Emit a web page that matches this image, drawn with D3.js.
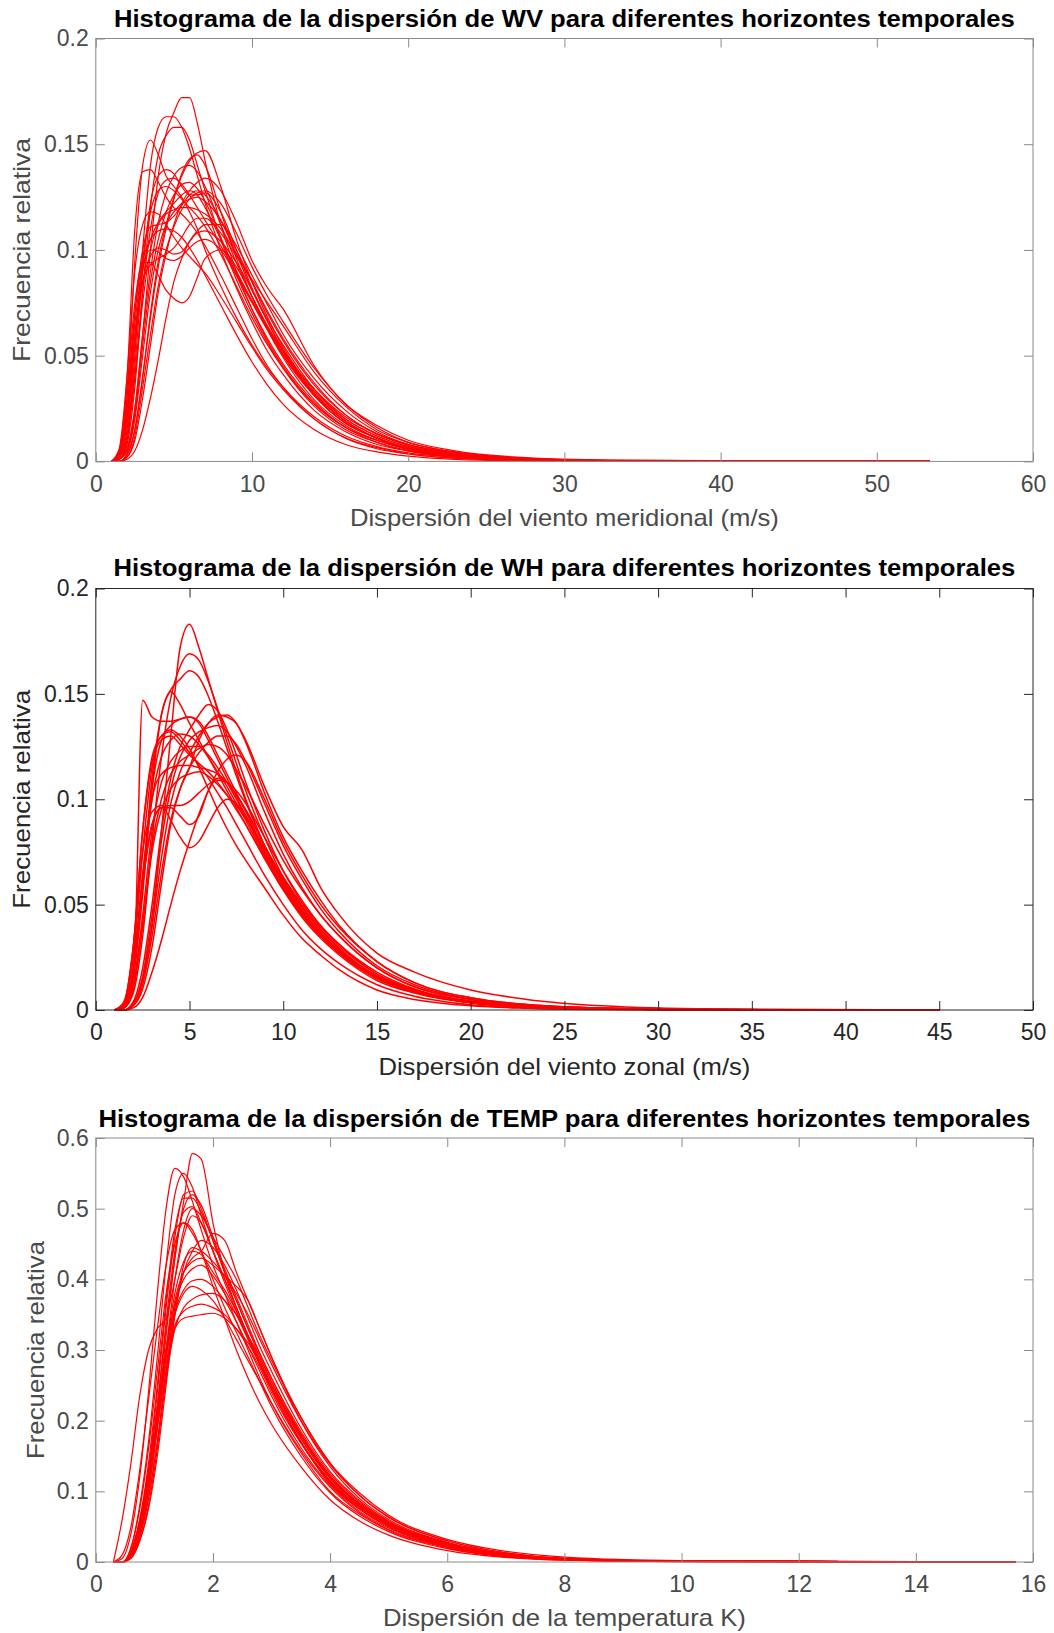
<!DOCTYPE html>
<html>
<head>
<meta charset="utf-8">
<script src="https://cdn.jsdelivr.net/npm/d3@7"></script>
<style>
  html, body { margin: 0; padding: 0; background: #fff; }
  svg { display: block; }
  text { font-family: "Liberation Sans", Arial, Helvetica, sans-serif; }
</style>
</head>
<body>
<svg id="chart" width="1054" height="1633"></svg>
<script>
// ---------------- DATA ----------------
// Panel 1: WV (viento meridional)
const xWV = [1, 1.5, 2, 2.5, 3, 3.5, 4, 4.5, 5, 5.5, 6, 6.5, 7, 8, 9, 10, 11, 12, 14, 16, 18, 20, 23, 27, 33, 53.4];
const curvesWV = [
  [0, 0.001, 0.006, 0.025, 0.06, 0.10, 0.135, 0.155, 0.165, 0.172, 0.172, 0.160, 0.142, 0.112, 0.090, 0.072, 0.057, 0.045, 0.027, 0.016, 0.010, 0.006, 0.003, 0.001, 0.0003, 0],
  [0, 0.002, 0.012, 0.05, 0.10, 0.14, 0.158, 0.163, 0.163, 0.158, 0.148, 0.135, 0.122, 0.100, 0.082, 0.066, 0.052, 0.041, 0.024, 0.014, 0.008, 0.005, 0.002, 0.0008, 0.0002, 0],
  [0, 0.001, 0.008, 0.035, 0.08, 0.12, 0.145, 0.154, 0.158, 0.158, 0.152, 0.140, 0.128, 0.105, 0.086, 0.070, 0.056, 0.044, 0.026, 0.015, 0.009, 0.005, 0.0025, 0.001, 0.0003, 0],
  [0, 0.004, 0.03, 0.095, 0.140, 0.152, 0.145, 0.135, 0.130, 0.125, 0.118, 0.110, 0.100, 0.083, 0.068, 0.055, 0.044, 0.035, 0.021, 0.012, 0.007, 0.004, 0.002, 0.0006, 0.0001, 0],
  [0, 0.005, 0.04, 0.11, 0.137, 0.138, 0.132, 0.125, 0.120, 0.117, 0.113, 0.108, 0.102, 0.088, 0.073, 0.058, 0.045, 0.035, 0.020, 0.011, 0.006, 0.0035, 0.0015, 0.0005, 0.0001, 0],
  [0, 0, 0.003, 0.015, 0.04, 0.07, 0.095, 0.112, 0.125, 0.135, 0.142, 0.146, 0.147, 0.130, 0.105, 0.085, 0.068, 0.054, 0.033, 0.020, 0.012, 0.007, 0.003, 0.0012, 0.0003, 0],
  [0, 0.001, 0.006, 0.025, 0.06, 0.09, 0.113, 0.127, 0.135, 0.139, 0.140, 0.137, 0.130, 0.112, 0.094, 0.078, 0.063, 0.050, 0.031, 0.018, 0.011, 0.006, 0.003, 0.001, 0.0003, 0],
  [0, 0, 0.002, 0.01, 0.03, 0.055, 0.08, 0.098, 0.112, 0.122, 0.128, 0.132, 0.134, 0.128, 0.113, 0.095, 0.082, 0.072, 0.045, 0.027, 0.017, 0.010, 0.005, 0.002, 0.0006, 0],
  [0, 0.002, 0.015, 0.055, 0.095, 0.118, 0.128, 0.130, 0.128, 0.124, 0.120, 0.116, 0.111, 0.098, 0.083, 0.068, 0.055, 0.044, 0.027, 0.016, 0.009, 0.005, 0.0025, 0.0008, 0.0002, 0],
  [0, 0, 0.004, 0.02, 0.05, 0.08, 0.10, 0.112, 0.118, 0.122, 0.124, 0.125, 0.123, 0.114, 0.100, 0.085, 0.070, 0.057, 0.036, 0.022, 0.013, 0.008, 0.004, 0.0015, 0.0004, 0],
  [0, 0.001, 0.01, 0.04, 0.075, 0.10, 0.112, 0.117, 0.119, 0.12, 0.12, 0.119, 0.117, 0.110, 0.098, 0.085, 0.071, 0.058, 0.037, 0.022, 0.013, 0.008, 0.0035, 0.0012, 0.0003, 0],
  [0, 0.005, 0.035, 0.075, 0.094, 0.094, 0.088, 0.081, 0.077, 0.075, 0.078, 0.087, 0.096, 0.100, 0.092, 0.078, 0.064, 0.052, 0.032, 0.019, 0.011, 0.006, 0.003, 0.001, 0.0002, 0],
  [0, 0.003, 0.025, 0.065, 0.092, 0.100, 0.099, 0.096, 0.095, 0.097, 0.101, 0.104, 0.105, 0.100, 0.088, 0.075, 0.062, 0.050, 0.031, 0.018, 0.011, 0.006, 0.003, 0.001, 0.0002, 0],
  [0, 0, 0.001, 0.005, 0.015, 0.03, 0.048, 0.068, 0.085, 0.096, 0.104, 0.109, 0.112, 0.112, 0.102, 0.088, 0.074, 0.060, 0.039, 0.024, 0.014, 0.008, 0.004, 0.0015, 0.0004, 0],
  [0, 0.001, 0.005, 0.022, 0.055, 0.085, 0.105, 0.118, 0.126, 0.131, 0.132, 0.129, 0.123, 0.106, 0.088, 0.072, 0.058, 0.046, 0.028, 0.016, 0.010, 0.0055, 0.0025, 0.0009, 0.0002, 0],
  [0, 0.004, 0.03, 0.07, 0.095, 0.105, 0.109, 0.110, 0.109, 0.106, 0.101, 0.095, 0.088, 0.074, 0.060, 0.047, 0.036, 0.027, 0.015, 0.008, 0.0045, 0.0025, 0.001, 0.0003, 0.0001, 0],
  [0, 0, 0.002, 0.012, 0.035, 0.06, 0.083, 0.1, 0.111, 0.119, 0.124, 0.127, 0.128, 0.122, 0.108, 0.092, 0.078, 0.066, 0.044, 0.027, 0.016, 0.009, 0.0045, 0.0017, 0.0005, 0],
  [0, 0, 0.003, 0.015, 0.04, 0.068, 0.092, 0.11, 0.124, 0.136, 0.143, 0.145, 0.140, 0.118, 0.096, 0.078, 0.062, 0.049, 0.029, 0.017, 0.01, 0.006, 0.0028, 0.001, 0.0003, 0],
  [0, 0.006, 0.04, 0.09, 0.112, 0.118, 0.117, 0.112, 0.106, 0.101, 0.097, 0.093, 0.089, 0.078, 0.066, 0.054, 0.043, 0.034, 0.02, 0.011, 0.0065, 0.0035, 0.0015, 0.0005, 0.0001, 0],
  [0, 0.002, 0.018, 0.055, 0.085, 0.097, 0.101, 0.100, 0.098, 0.099, 0.104, 0.108, 0.109, 0.104, 0.094, 0.081, 0.067, 0.055, 0.034, 0.02, 0.012, 0.007, 0.0033, 0.0012, 0.0003, 0],
  [0, 0.002, 0.012, 0.045, 0.09, 0.122, 0.135, 0.138, 0.136, 0.13, 0.126, 0.126, 0.127, 0.118, 0.100, 0.082, 0.066, 0.052, 0.031, 0.018, 0.011, 0.006, 0.003, 0.001, 0.0003, 0],
  [0, 0.003, 0.025, 0.07, 0.1, 0.111, 0.112, 0.113, 0.116, 0.121, 0.126, 0.128, 0.126, 0.114, 0.098, 0.081, 0.066, 0.053, 0.032, 0.019, 0.011, 0.006, 0.003, 0.001, 0.0002, 0],
  [0, 0.001, 0.01, 0.04, 0.08, 0.11, 0.127, 0.133, 0.134, 0.131, 0.126, 0.12, 0.114, 0.102, 0.089, 0.076, 0.063, 0.051, 0.032, 0.019, 0.011, 0.0065, 0.003, 0.001, 0.0003, 0],
  [0, 0.002, 0.02, 0.06, 0.09, 0.105, 0.113, 0.118, 0.122, 0.126, 0.128, 0.126, 0.12, 0.105, 0.09, 0.076, 0.063, 0.052, 0.034, 0.021, 0.013, 0.0075, 0.0035, 0.0013, 0.0003, 0],
  [0, 0.003, 0.022, 0.06, 0.085, 0.093, 0.096, 0.098, 0.101, 0.106, 0.112, 0.115, 0.115, 0.108, 0.097, 0.086, 0.075, 0.064, 0.042, 0.026, 0.015, 0.009, 0.0043, 0.0016, 0.0004, 0]
];
const xTicksWV = [0, 10, 20, 30, 40, 50, 60];
const yTicksWV = [0, 0.05, 0.1, 0.15, 0.2];

// Panel 2: WH (viento zonal)
const xWH = [1, 1.5, 2, 2.5, 3, 3.5, 4, 4.5, 5, 5.5, 6, 6.5, 7, 7.5, 8, 9, 10, 11, 12, 13, 15, 17, 20, 23, 27, 33, 45];
const curvesWH = [
  [0, 0, 0.003, 0.015, 0.04, 0.085, 0.13, 0.172, 0.183, 0.172, 0.157, 0.142, 0.127, 0.113, 0.1, 0.078, 0.06, 0.047, 0.036, 0.027, 0.015, 0.0085, 0.0035, 0.0015, 0.0005, 0.0001, 0],
  [0, 0.001, 0.008, 0.035, 0.08, 0.12, 0.148, 0.163, 0.169, 0.166, 0.156, 0.143, 0.13, 0.117, 0.104, 0.082, 0.063, 0.049, 0.038, 0.029, 0.016, 0.009, 0.0038, 0.0016, 0.0005, 0.0001, 0],
  [0, 0.002, 0.015, 0.055, 0.105, 0.14, 0.152, 0.157, 0.161, 0.158, 0.149, 0.137, 0.124, 0.111, 0.099, 0.078, 0.061, 0.047, 0.036, 0.027, 0.015, 0.0085, 0.0035, 0.0015, 0.0005, 0.0001, 0],
  [0, 0.001, 0.012, 0.147, 0.139, 0.137, 0.137, 0.138, 0.139, 0.136, 0.128, 0.119, 0.11, 0.101, 0.092, 0.074, 0.058, 0.045, 0.035, 0.027, 0.015, 0.0085, 0.0035, 0.0015, 0.0005, 0.0001, 0],
  [0, 0.002, 0.018, 0.06, 0.11, 0.14, 0.151, 0.145, 0.136, 0.128, 0.12, 0.112, 0.104, 0.096, 0.088, 0.072, 0.057, 0.044, 0.034, 0.026, 0.014, 0.008, 0.0033, 0.0014, 0.0004, 0.0001, 0],
  [0, 0, 0.004, 0.02, 0.05, 0.085, 0.11, 0.125, 0.133, 0.14, 0.145, 0.142, 0.133, 0.121, 0.108, 0.085, 0.066, 0.051, 0.04, 0.031, 0.017, 0.0095, 0.004, 0.0018, 0.0006, 0.0001, 0],
  [0, 0, 0.002, 0.012, 0.035, 0.065, 0.09, 0.105, 0.115, 0.128, 0.136, 0.14, 0.139, 0.136, 0.128, 0.106, 0.087, 0.076, 0.058, 0.045, 0.027, 0.018, 0.0095, 0.005, 0.002, 0.0005, 0],
  [0, 0.002, 0.016, 0.06, 0.105, 0.128, 0.135, 0.138, 0.139, 0.137, 0.13, 0.121, 0.112, 0.103, 0.094, 0.076, 0.06, 0.046, 0.036, 0.028, 0.015, 0.0085, 0.0035, 0.0015, 0.0005, 0.0001, 0],
  [0, 0.003, 0.025, 0.075, 0.115, 0.13, 0.132, 0.128, 0.122, 0.116, 0.11, 0.103, 0.096, 0.088, 0.08, 0.064, 0.05, 0.038, 0.029, 0.022, 0.012, 0.0065, 0.0025, 0.001, 0.0003, 0, 0],
  [0, 0, 0.003, 0.016, 0.045, 0.08, 0.105, 0.12, 0.128, 0.132, 0.134, 0.135, 0.132, 0.125, 0.116, 0.094, 0.074, 0.058, 0.045, 0.035, 0.02, 0.011, 0.005, 0.0022, 0.0008, 0.0002, 0],
  [0, 0, 0.002, 0.01, 0.03, 0.06, 0.088, 0.105, 0.115, 0.122, 0.127, 0.13, 0.13, 0.126, 0.118, 0.098, 0.078, 0.062, 0.048, 0.037, 0.021, 0.012, 0.0052, 0.0023, 0.0008, 0.0002, 0],
  [0, 0.002, 0.02, 0.065, 0.1, 0.112, 0.115, 0.116, 0.116, 0.115, 0.114, 0.112, 0.108, 0.102, 0.095, 0.078, 0.062, 0.048, 0.037, 0.028, 0.016, 0.009, 0.0038, 0.0016, 0.0005, 0.0001, 0],
  [0, 0.003, 0.03, 0.075, 0.094, 0.097, 0.09, 0.082, 0.077, 0.08, 0.088, 0.096, 0.1, 0.098, 0.092, 0.075, 0.059, 0.046, 0.035, 0.027, 0.015, 0.0085, 0.0035, 0.0015, 0.0005, 0.0001, 0],
  [0, 0.002, 0.018, 0.06, 0.088, 0.096, 0.096, 0.092, 0.088, 0.092, 0.104, 0.11, 0.108, 0.102, 0.095, 0.078, 0.062, 0.049, 0.038, 0.029, 0.016, 0.009, 0.0038, 0.0016, 0.0005, 0.0001, 0],
  [0, 0.001, 0.01, 0.04, 0.075, 0.095, 0.105, 0.11, 0.112, 0.113, 0.111, 0.107, 0.102, 0.097, 0.091, 0.077, 0.063, 0.05, 0.039, 0.03, 0.017, 0.0095, 0.004, 0.0017, 0.0006, 0.0001, 0],
  [0, 0.004, 0.03, 0.085, 0.12, 0.13, 0.133, 0.13, 0.124, 0.115, 0.105, 0.095, 0.086, 0.078, 0.071, 0.058, 0.045, 0.034, 0.026, 0.019, 0.0095, 0.005, 0.002, 0.0008, 0.0002, 0, 0],
  [0, 0, 0.001, 0.006, 0.018, 0.033, 0.05, 0.066, 0.08, 0.093, 0.104, 0.113, 0.119, 0.121, 0.118, 0.1, 0.08, 0.064, 0.05, 0.039, 0.023, 0.013, 0.0058, 0.0026, 0.0009, 0.0002, 0],
  [0, 0, 0.003, 0.014, 0.04, 0.072, 0.098, 0.113, 0.122, 0.13, 0.136, 0.139, 0.14, 0.136, 0.127, 0.103, 0.082, 0.066, 0.052, 0.04, 0.023, 0.013, 0.0058, 0.0026, 0.0009, 0.0002, 0],
  [0, 0.001, 0.012, 0.045, 0.085, 0.108, 0.118, 0.123, 0.125, 0.125, 0.121, 0.115, 0.108, 0.1, 0.092, 0.075, 0.06, 0.047, 0.036, 0.028, 0.015, 0.0085, 0.0035, 0.0015, 0.0005, 0.0001, 0],
  [0, 0.003, 0.03, 0.085, 0.118, 0.128, 0.13, 0.126, 0.121, 0.117, 0.113, 0.108, 0.102, 0.095, 0.088, 0.072, 0.057, 0.045, 0.035, 0.027, 0.015, 0.0085, 0.0035, 0.0015, 0.0005, 0.0001, 0],
  [0, 0.002, 0.02, 0.06, 0.088, 0.096, 0.097, 0.097, 0.099, 0.103, 0.107, 0.109, 0.108, 0.104, 0.098, 0.082, 0.066, 0.052, 0.04, 0.031, 0.018, 0.01, 0.0043, 0.0019, 0.0006, 0.0001, 0],
  [0, 0.001, 0.01, 0.04, 0.078, 0.1, 0.112, 0.118, 0.121, 0.124, 0.126, 0.125, 0.121, 0.114, 0.106, 0.088, 0.071, 0.057, 0.045, 0.035, 0.02, 0.011, 0.005, 0.0022, 0.0008, 0.0002, 0],
  [0, 0.002, 0.018, 0.062, 0.1, 0.12, 0.128, 0.131, 0.13, 0.126, 0.12, 0.113, 0.106, 0.098, 0.09, 0.073, 0.058, 0.046, 0.036, 0.028, 0.016, 0.009, 0.0038, 0.0016, 0.0005, 0.0001, 0]
];
const xTicksWH = [0, 5, 10, 15, 20, 25, 30, 35, 40, 45, 50];
const yTicksWH = [0, 0.05, 0.1, 0.15, 0.2];

// Panel 3: TEMP
const xTEMP = [0.3, 0.45, 0.6, 0.75, 0.9, 1.05, 1.2, 1.35, 1.5, 1.65, 1.8, 2.0, 2.2, 2.4, 2.6, 2.8, 3.0, 3.5, 4, 4.5, 5, 6, 7, 8, 10, 15.7];
const curvesTEMP = [
  [0, 0, 0.01, 0.05, 0.12, 0.22, 0.33, 0.43, 0.51, 0.578, 0.57, 0.48, 0.41, 0.36, 0.32, 0.28, 0.245, 0.17, 0.11, 0.075, 0.05, 0.022, 0.009, 0.004, 0.001, 0],
  [0, 0.005, 0.04, 0.12, 0.24, 0.38, 0.50, 0.557, 0.545, 0.51, 0.47, 0.42, 0.38, 0.34, 0.30, 0.26, 0.225, 0.155, 0.10, 0.068, 0.045, 0.02, 0.008, 0.003, 0.0007, 0],
  [0, 0, 0.02, 0.08, 0.17, 0.29, 0.42, 0.52, 0.55, 0.53, 0.49, 0.44, 0.395, 0.355, 0.315, 0.28, 0.245, 0.17, 0.115, 0.078, 0.052, 0.024, 0.01, 0.004, 0.001, 0],
  [0, 0, 0.015, 0.06, 0.14, 0.25, 0.37, 0.47, 0.515, 0.515, 0.495, 0.455, 0.41, 0.37, 0.33, 0.29, 0.255, 0.18, 0.12, 0.08, 0.054, 0.025, 0.01, 0.004, 0.001, 0],
  [0, 0, 0.01, 0.045, 0.11, 0.2, 0.32, 0.43, 0.5, 0.52, 0.505, 0.46, 0.415, 0.375, 0.335, 0.295, 0.26, 0.185, 0.125, 0.085, 0.057, 0.027, 0.011, 0.0045, 0.001, 0],
  [0, 0, 0.012, 0.05, 0.12, 0.22, 0.34, 0.44, 0.495, 0.503, 0.48, 0.44, 0.4, 0.36, 0.32, 0.28, 0.245, 0.17, 0.112, 0.075, 0.05, 0.023, 0.009, 0.0035, 0.0008, 0],
  [0, 0, 0.008, 0.035, 0.09, 0.17, 0.27, 0.36, 0.41, 0.43, 0.44, 0.465, 0.455, 0.41, 0.37, 0.33, 0.29, 0.205, 0.14, 0.095, 0.064, 0.03, 0.013, 0.005, 0.0012, 0],
  [0, 0, 0.01, 0.045, 0.11, 0.2, 0.3, 0.38, 0.425, 0.44, 0.435, 0.41, 0.385, 0.355, 0.32, 0.285, 0.25, 0.175, 0.12, 0.082, 0.055, 0.026, 0.011, 0.0045, 0.001, 0],
  [0, 0, 0.008, 0.04, 0.1, 0.19, 0.29, 0.37, 0.41, 0.425, 0.43, 0.42, 0.405, 0.39, 0.37, 0.33, 0.29, 0.2, 0.135, 0.09, 0.06, 0.028, 0.012, 0.005, 0.0012, 0],
  [0, 0, 0.012, 0.05, 0.12, 0.21, 0.3, 0.365, 0.4, 0.415, 0.42, 0.405, 0.38, 0.35, 0.315, 0.28, 0.245, 0.17, 0.115, 0.078, 0.052, 0.024, 0.01, 0.004, 0.001, 0],
  [0, 0, 0.015, 0.06, 0.13, 0.22, 0.3, 0.355, 0.385, 0.398, 0.4, 0.39, 0.37, 0.34, 0.305, 0.27, 0.235, 0.162, 0.108, 0.072, 0.048, 0.022, 0.009, 0.0035, 0.0008, 0],
  [0, 0, 0.008, 0.035, 0.09, 0.17, 0.26, 0.33, 0.36, 0.372, 0.378, 0.38, 0.37, 0.35, 0.32, 0.29, 0.255, 0.18, 0.122, 0.083, 0.056, 0.026, 0.011, 0.0045, 0.001, 0],
  [0, 0, 0.012, 0.05, 0.12, 0.2, 0.28, 0.335, 0.355, 0.362, 0.365, 0.36, 0.35, 0.33, 0.305, 0.275, 0.24, 0.168, 0.113, 0.076, 0.05, 0.023, 0.0095, 0.0038, 0.0009, 0],
  [0, 0, 0.01, 0.045, 0.11, 0.19, 0.27, 0.33, 0.345, 0.348, 0.35, 0.352, 0.345, 0.33, 0.31, 0.28, 0.25, 0.178, 0.12, 0.08, 0.053, 0.025, 0.0105, 0.0042, 0.001, 0],
  [0, 0.06, 0.14, 0.235, 0.3, 0.33, 0.345, 0.4, 0.46, 0.49, 0.48, 0.44, 0.4, 0.36, 0.32, 0.285, 0.25, 0.175, 0.118, 0.08, 0.053, 0.025, 0.0105, 0.0042, 0.001, 0],
  [0, 0, 0.008, 0.04, 0.1, 0.19, 0.3, 0.4, 0.47, 0.5, 0.49, 0.46, 0.43, 0.4, 0.36, 0.32, 0.285, 0.205, 0.14, 0.098, 0.066, 0.032, 0.015, 0.007, 0.002, 0],
  [0, 0, 0.02, 0.075, 0.16, 0.27, 0.38, 0.45, 0.48, 0.47, 0.44, 0.39, 0.345, 0.3, 0.26, 0.225, 0.195, 0.135, 0.088, 0.058, 0.038, 0.016, 0.0065, 0.0025, 0.0005, 0],
  [0, 0, 0.005, 0.03, 0.08, 0.16, 0.26, 0.35, 0.41, 0.44, 0.455, 0.445, 0.42, 0.385, 0.345, 0.305, 0.27, 0.19, 0.128, 0.087, 0.058, 0.027, 0.011, 0.0045, 0.001, 0],
  [0, 0, 0.014, 0.055, 0.125, 0.21, 0.29, 0.35, 0.38, 0.39, 0.385, 0.37, 0.345, 0.315, 0.285, 0.255, 0.225, 0.158, 0.106, 0.07, 0.046, 0.021, 0.0085, 0.0033, 0.0008, 0],
  [0, 0, 0.012, 0.055, 0.13, 0.24, 0.36, 0.46, 0.52, 0.525, 0.5, 0.455, 0.41, 0.37, 0.33, 0.295, 0.26, 0.182, 0.122, 0.082, 0.055, 0.025, 0.01, 0.004, 0.001, 0],
  [0, 0.01, 0.05, 0.13, 0.23, 0.33, 0.42, 0.47, 0.48, 0.465, 0.44, 0.4, 0.36, 0.325, 0.29, 0.255, 0.22, 0.15, 0.098, 0.065, 0.043, 0.019, 0.0075, 0.003, 0.0006, 0],
  [0, 0, 0.006, 0.03, 0.075, 0.15, 0.25, 0.35, 0.42, 0.445, 0.44, 0.425, 0.405, 0.38, 0.35, 0.315, 0.28, 0.2, 0.138, 0.094, 0.063, 0.03, 0.013, 0.0052, 0.0012, 0]
];
const xTicksTEMP = [0, 2, 4, 6, 8, 10, 12, 14, 16];
const yTicksTEMP = [0, 0.1, 0.2, 0.3, 0.4, 0.5, 0.6];

const titles = [
  "Histograma de la dispersión de WV para diferentes horizontes temporales",
  "Histograma de la dispersión de WH para diferentes horizontes temporales",
  "Histograma de la dispersión de TEMP para diferentes horizontes temporales"
];
const xLabels = [
  "Dispersión del viento meridional (m/s)",
  "Dispersión del viento zonal (m/s)",
  "Dispersión de la temperatura K)"
];
const yLabel = "Frecuencia relativa";

// ---------------- DRAW ----------------
const svg = d3.select("#chart");
svg.append("rect").attr("width", 1054).attr("height", 1633).attr("fill", "#fff");

const panels = [
  { xs: xWV, curves: curvesWV, xTicks: xTicksWV, yTicks: yTicksWV, xMax: 60, yMax: 0.2,
    top: 38.5, bottom: 461.4, title: titles[0], titleY: 27, titleW: 901,
    xLabel: xLabels[0], xLabelY: 526, xLabelW: 429, yLabelX: 30, yLabelW: 224,
    axisColor: "#8a8a8a", textColor: "#4a4a4a", lw: 1.2 },
  { xs: xWH, curves: curvesWH, xTicks: xTicksWH, yTicks: yTicksWH, xMax: 50, yMax: 0.2,
    top: 588.5, bottom: 1010, title: titles[1], titleY: 576, titleW: 902,
    xLabel: xLabels[1], xLabelY: 1075, xLabelW: 372, yLabelX: 30, yLabelW: 219,
    axisColor: "#262626", textColor: "#262626", lw: 1.5 },
  { xs: xTEMP, curves: curvesTEMP, xTicks: xTicksTEMP, yTicks: yTicksTEMP, xMax: 16, yMax: 0.6,
    top: 1138, bottom: 1562, title: titles[2], titleY: 1127, titleW: 932,
    xLabel: xLabels[2], xLabelY: 1626, xLabelW: 363, yLabelX: 44, yLabelW: 218,
    axisColor: "#8a8a8a", textColor: "#4a4a4a", lw: 1.2 }
];

const left = 95.8, right = 1033;
const tickLen = 9;

panels.forEach(p => {
  const x = d3.scaleLinear().domain([0, p.xMax]).range([left, right]);
  const y = d3.scaleLinear().domain([0, p.yMax]).range([p.bottom, p.top]);
  const g = svg.append("g");

  // curves
  const line = d3.line()
    .x((d, i) => x(p.xs[i]))
    .y(d => y(d))
    .curve(d3.curveMonotoneX);
  g.append("g").attr("class", "curves")
    .selectAll("path").data(p.curves).join("path")
    .attr("d", line)
    .attr("fill", "none")
    .attr("stroke", "#ff0000")
    .attr("stroke-width", p.lw);

  // box
  g.append("rect")
    .attr("x", left).attr("y", p.top)
    .attr("width", right - left).attr("height", p.bottom - p.top)
    .attr("fill", "none").attr("stroke", p.axisColor).attr("stroke-width", 1);

  const fmt = d => String(d);
  const xAxis = g.append("g").attr("transform", `translate(0,${p.bottom})`)
    .call(d3.axisBottom(x).tickValues(p.xTicks).tickFormat(fmt).tickSizeInner(-tickLen).tickSizeOuter(0).tickPadding(14));
  const xAxisTop = g.append("g").attr("transform", `translate(0,${p.top})`)
    .call(d3.axisTop(x).tickValues(p.xTicks).tickFormat("").tickSizeInner(-tickLen).tickSizeOuter(0));
  const yAxis = g.append("g").attr("transform", `translate(${left},0)`)
    .call(d3.axisLeft(y).tickValues(p.yTicks).tickFormat(fmt).tickSizeInner(-tickLen).tickSizeOuter(0).tickPadding(7));
  const yAxisR = g.append("g").attr("transform", `translate(${right},0)`)
    .call(d3.axisRight(y).tickValues(p.yTicks).tickFormat("").tickSizeInner(-tickLen).tickSizeOuter(0));

  [xAxis, xAxisTop, yAxis, yAxisR].forEach(a => {
    a.select(".domain").remove();
    a.selectAll("line").attr("stroke", p.axisColor);
    a.selectAll("text").attr("fill", p.textColor).style("font-size", "23px")
      .style("font-family", '"Liberation Sans", Arial, sans-serif');
  });

  // title
  g.append("text")
    .attr("x", (left + right) / 2).attr("y", p.titleY)
    .attr("text-anchor", "middle")
    .attr("textLength", p.titleW).attr("lengthAdjust", "spacingAndGlyphs")
    .style("font-size", "23px").style("font-weight", "bold").attr("fill", "#000")
    .text(p.title);

  // x label
  g.append("text")
    .attr("x", (left + right) / 2).attr("y", p.xLabelY)
    .attr("text-anchor", "middle")
    .attr("textLength", p.xLabelW).attr("lengthAdjust", "spacingAndGlyphs")
    .style("font-size", "24px").attr("fill", p.textColor)
    .text(p.xLabel);

  // y label
  g.append("text")
    .attr("transform", `translate(${p.yLabelX},${(p.top + p.bottom) / 2}) rotate(-90)`)
    .attr("text-anchor", "middle")
    .attr("textLength", p.yLabelW).attr("lengthAdjust", "spacingAndGlyphs")
    .style("font-size", "24px").attr("fill", p.textColor)
    .text(yLabel);
});
</script>
</body>
</html>
